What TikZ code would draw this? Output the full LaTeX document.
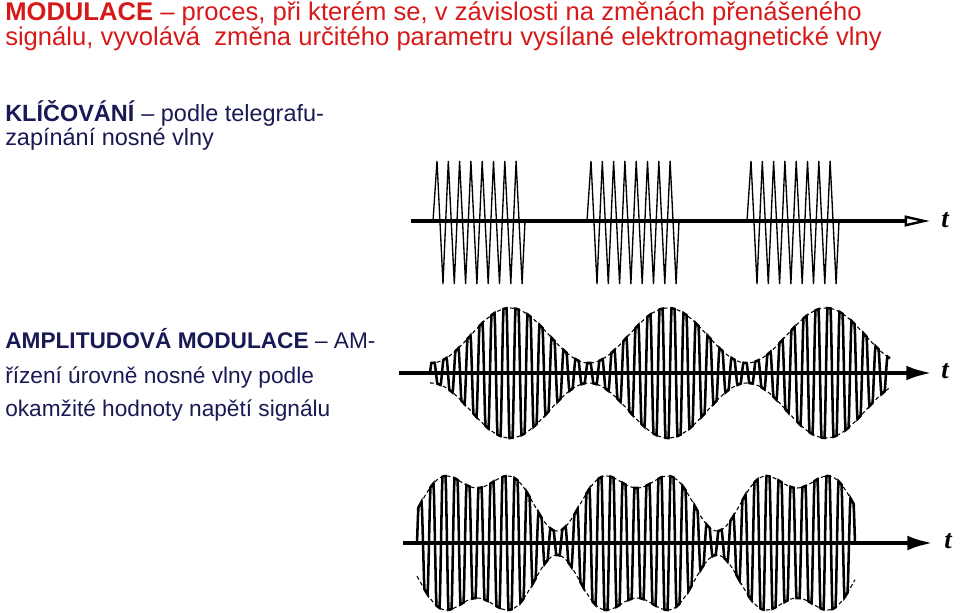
\documentclass[tikz,border=0pt]{standalone}
\usepackage{fontspec}
\setmainfont{Liberation Sans}
\newfontfamily\tfont{Liberation Serif}
\usetikzlibrary{arrows.meta,positioning}

\definecolor{titlered}{RGB}{215,25,25}
\definecolor{navy}{RGB}{25,25,85}

\tikzset{
  headline/.style={anchor=base west,inner sep=0pt,text=titlered,
    font=\fontsize{19.2}{19.2}\selectfont},
  blurb/.style={anchor=base west,inner sep=0pt,text=navy,
    font=\fontsize{17}{17}\selectfont},
  tlabel/.style={inner sep=0pt,font=\tfont\fontsize{20}{20}\selectfont\bfseries\itshape},
  keyed/.style={line width=1pt,line join=miter},
  carrier/.style={line width=1.9pt},
  envelope/.style={line width=0.8pt,densely dashed},
  axisopen/.style={line width=2.4pt,-{Triangle[open,length=19pt,width=8pt,line width=1.8pt]}},
  axisfilled/.style={line width=3.5pt,-{Latex[length=20pt,width=11pt]}},
}

\begin{document}
\begin{tikzpicture}[x=0.75pt,y=-0.75pt]
  \useasboundingbox (0,0) rectangle (960,613);

  \path
    (5,21) node[headline](hd1){\textbf{MODULACE} -- proces, při kterém se, v závislosti na změnách přenášeného}
    (5,46) node[headline](hd2){signálu, vyvolává\ \ změna určitého parametru vysílané elektromagnetické vlny};

  \path
    (5,122) node[blurb,font=\fontsize{17.6}{17.6}\selectfont](key1){\textbf{KLÍČOVÁNÍ} -- podle telegrafu-}
    (5,146) node[blurb,font=\fontsize{17.6}{17.6}\selectfont](key2){zapínání nosné vlny};

  \path
    (5,348) node[blurb](am1){\textbf{AMPLITUDOVÁ MODULACE} -- AM-}
    (5,383) node[blurb](am2){řízení úrovně nosné vlny podle}
    (5,416) node[blurb](am3){okamžité hodnoty napětí signálu};

  % keying
  \coordinate (o1) at (411,221);
  \coordinate (e1) at (930,221);
  \node[tlabel] (t1) at (945,220) {t};
  \foreach \s in {433,587,747} {
    \draw[keyed] (\s,221) \foreach \k in {0,...,7} { -- (\s+4+\k*11.3,161) -- (\s+10+\k*11.3,284) } -- (\s+92,221);
  }
  \draw[axisopen] (o1) -- (e1);

  % AM, single tone
  \coordinate (o2) at (399,373);
  \coordinate (e2) at (933,373);
  \node[tlabel] (t2) at (945,371) {t};
  \draw[carrier] plot[domain=0:460,samples=921]
    ({430+\x},{373-(37.5+27.5*cos((\x-80)*2.2785))*max(-1,min(1,1.6*sin(30*\x)))});
  \draw[envelope] plot[domain=0:460,samples=230]
    ({430+\x},{373-(37.5+27.5*cos((\x-80)*2.2785))});
  \draw[envelope] plot[domain=0:460,samples=230]
    ({430+\x},{373+(37.5+27.5*cos((\x-80)*2.2785))});
  \draw[axisfilled] (o2) -- (e2);

  % AM, two tones
  \coordinate (o3) at (403,543);
  \coordinate (e3) at (934,543);
  \node[tlabel] (t3) at (948,541) {t};
  \draw[carrier] plot[domain=0:438,samples=877]
    ({417+\x},{543-(48.3+21.5*cos((\x-60)*2.25)-14.8*cos((\x-60)*4.5))*max(-1,min(1,1.6*sin(30*\x)))});
  \draw[envelope] plot[domain=0:438,samples=220]
    ({417+\x},{543-(48.3+21.5*cos((\x-60)*2.25)-14.8*cos((\x-60)*4.5))});
  \draw[envelope] plot[domain=0:438,samples=220]
    ({417+\x},{543+(48.3+21.5*cos((\x-60)*2.25)-14.8*cos((\x-60)*4.5))});
  \draw[axisfilled] (o3) -- (e3);
\end{tikzpicture}
\end{document}
